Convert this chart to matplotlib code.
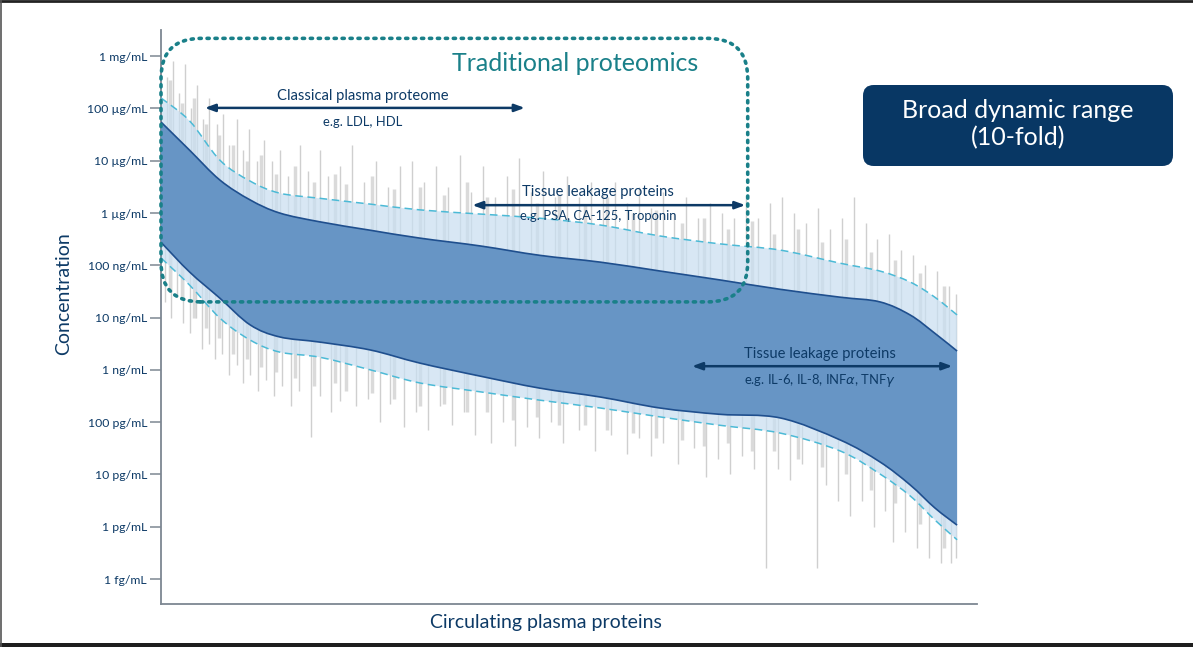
import numpy as np
import matplotlib
matplotlib.use("Agg")
import matplotlib.pyplot as plt
from matplotlib.patches import FancyBboxPatch, PathPatch
from matplotlib.path import Path

plt.rcParams['font.family'] = ['Lato', 'DejaVu Sans']

# ---------------- data ----------------
# y axis: evenly spaced concentration levels (0 = 1 fg/mL ... 10 = 1 mg/mL)
tick_levels = [0, 1, 2, 3, 4, 5, 6, 7, 8, 9, 10]
tick_labels = ["1 fg/mL", "1 pg/mL", "10 pg/mL", "100 pg/mL", "1 ng/mL",
               "10 ng/mL", "100 ng/mL", "1 µg/mL", "10 µg/mL", "100 µg/mL", "1 mg/mL"]

# protein rank (percent of circulating plasma proteins)
rank = [0, 3.6, 7.4, 11.2, 14.9, 20.0, 26.3, 32.5, 40.1, 47.6, 55.2,
        62.7, 70.2, 77.8, 85.3, 90.3, 94.1, 97.2, 100]
outer_upper = [9.20, 8.76, 8.01, 7.61, 7.38, 7.28, 7.17, 7.06, 6.98, 6.90, 6.77,
               6.56, 6.41, 6.29, 6.04, 5.89, 5.68, 5.39, 5.05]
inner_upper = [8.74, 8.20, 7.63, 7.25, 7.00, 6.83, 6.67, 6.52, 6.37, 6.19, 6.06,
               5.89, 5.72, 5.54, 5.39, 5.30, 5.05, 4.70, 4.36]
inner_lower = [6.44, 5.87, 5.37, 4.86, 4.63, 4.53, 4.38, 4.13, 3.88, 3.65, 3.48,
               3.27, 3.15, 3.08, 2.66, 2.24, 1.80, 1.36, 1.03]
outer_lower = [6.14, 5.62, 4.99, 4.57, 4.34, 4.24, 4.00, 3.75, 3.58, 3.42, 3.27,
               3.10, 2.94, 2.79, 2.45, 2.01, 1.59, 1.13, 0.75]

# individual protein measurements (gray spikes) - long, thin ones
upper_spike_x = [0.8, 1.5, 2.3, 3.0, 3.8, 4.5, 5.3, 6.0, 7.0, 7.8, 8.6, 9.5, 10.3, 11.0,
                 12.0, 13.0, 14.0, 15.0, 16.0, 17.5, 18.5, 20.0, 21.0, 22.5, 24.0, 25.5,
                 27.0, 28.5, 30.0, 31.5, 33.0, 34.5, 36.0, 37.5, 39.0, 40.5, 42.0, 43.5,
                 45.0, 46.5, 48.0, 49.5, 51.0, 52.5, 54.0, 55.5, 57.0, 58.5, 60.0, 61.5,
                 63.0, 64.5, 66.0, 67.5, 69.0, 70.5, 72.0, 73.5, 75.0, 76.5, 78.0, 79.5,
                 81.0, 82.5, 84.0, 85.5, 87.0, 88.5, 90.0, 91.5, 93.0, 94.5, 96.0, 97.5,
                 99.0, 99.8]
upper_spike_top = [9.6, 9.9, 9.3, 9.85, 9.0, 9.45, 8.8, 9.2, 8.7, 8.9, 8.3, 8.8, 8.2, 8.6,
                   8.0, 8.4, 8.0, 8.2, 7.7, 8.3, 7.8, 8.2, 7.7, 7.9, 8.3, 7.6,
                   8.0, 7.5, 7.9, 8.0, 7.6, 7.9, 7.5, 8.1, 7.4, 7.9, 7.3, 7.7,
                   8.05, 7.4, 7.8, 7.3, 7.7, 7.3, 7.6, 7.35, 7.6, 7.2, 7.5, 7.1,
                   7.4, 7.0, 7.3, 6.9, 7.2, 7.0, 6.9, 7.35, 6.9, 7.2, 7.3, 7.0,
                   6.8, 7.1, 6.7, 6.9, 7.3, 6.8, 6.5, 6.6, 6.3, 6.2, 6.0, 5.9,
                   5.6, 5.45]
lower_spike_x = [0.5, 1.2, 2.0, 2.8, 3.6, 4.4, 5.2, 6.0, 6.8, 7.6, 8.5, 9.5, 10.3, 11.2,
                 12.2, 13.2, 14.2, 15.2, 16.3, 17.3, 18.8, 20.0, 21.3, 22.5, 24.5, 26.0,
                 27.5, 28.8, 30.5, 32.0, 33.5, 35.0, 36.5, 38.0, 39.5, 41.5, 43.0, 44.5,
                 46.0, 47.5, 49.0, 50.5, 52.5, 54.5, 56.5, 58.5, 60.0, 61.5, 63.0, 65.0,
                 67.0, 68.5, 70.0, 71.5, 73.0, 74.5, 76.0, 77.5, 79.0, 80.5, 82.4, 83.5,
                 85.0, 86.5, 88.0, 89.5, 91.0, 92.0, 93.5, 95.0, 96.5, 98.0, 99.2, 99.9]
lower_spike_bottom = [5.3, 5.0, 5.4, 4.9, 4.7, 5.0, 4.4, 4.5, 4.2, 4.3, 3.9, 4.1, 3.75, 3.9,
                      3.6, 3.8, 3.5, 3.7, 3.3, 3.6, 2.72, 3.5, 3.2, 3.4, 3.3, 3.45,
                      3.0, 3.35, 2.9, 3.2, 2.85, 3.3, 2.95, 3.2, 2.75, 2.6, 3.0, 2.55,
                      2.9, 2.7, 3.0, 2.6, 2.85, 2.45, 2.75, 2.4, 2.7, 2.35, 2.6, 2.2,
                      2.5, 1.95, 2.3, 2.0, 2.35, 2.1, 0.21, 2.1, 1.9, 2.2, 0.21, 1.8,
                      1.5, 1.2, 1.5, 1.0, 1.3, 0.7, 0.9, 0.6, 0.4, 0.3, 0.3, 0.4]
# shorter, wider measurement bars close to the band
minor_x = [1.1, 2.6, 4.1, 5.7, 7.3, 9.0, 10.8, 12.5, 14.5, 16.8, 19.2, 21.8, 23.2, 26.5,
           29.3, 32.5, 35.5, 38.5, 41.0, 44.2, 47.2, 50.0, 53.2, 56.0, 59.3, 62.2, 65.5,
           68.2, 71.2, 74.2, 77.0, 80.0, 83.0, 86.0, 89.2, 92.2, 95.3, 98.3]
minor_top = [9.55, 9.1, 9.2, 8.7, 8.5, 8.3, 8.0, 8.1, 7.75, 7.9, 7.6, 7.75, 7.55, 7.7,
             7.45, 7.5, 7.35, 7.6, 7.3, 7.45, 7.2, 7.35, 7.15, 7.3, 7.0, 7.05, 6.8,
             6.9, 6.7, 6.85, 6.6, 6.7, 6.45, 6.5, 6.25, 6.1, 5.85, 5.6]
minor_bottom = [5.5, 5.35, 5.0, 4.8, 4.6, 4.3, 4.2, 4.05, 3.95, 3.85, 3.7, 3.75, 3.6, 3.55,
                3.45, 3.3, 3.35, 3.2, 3.2, 3.05, 3.1, 2.95, 2.95, 2.85, 2.8, 2.7, 2.65,
                2.55, 2.6, 2.45, 2.45, 2.3, 2.15, 2.0, 1.7, 1.45, 1.05, 0.6]

# ---------------- colours ----------------
NAVY = "#0d3a66"
TEAL = "#1a8089"
DARK_FILL = "#6795c5"
DARK_EDGE = "#1f4f8e"
LIGHT_FILL = "#c9dff1"
DASH = "#4cbad6"
SPIKE = "#cfcfcf"
AXIS = "#7d8792"


def smooth_path(xs, ys):
    """Bezier (Catmull-Rom) path through the given points."""
    P = np.column_stack([xs, ys]).astype(float)
    n = len(P)
    verts, codes = [P[0]], [Path.MOVETO]
    for i in range(n - 1):
        p0 = P[i - 1] if i > 0 else P[i]
        p1, p2 = P[i], P[i + 1]
        p3 = P[i + 2] if i + 2 < n else P[i + 1]
        verts += [p1 + (p2 - p0) / 6, p2 - (p3 - p1) / 6, p2]
        codes += [Path.CURVE4] * 3
    return verts, codes


def band_path(xs, lo, hi):
    v1, c1 = smooth_path(xs, hi)
    v2, c2 = smooth_path(xs[::-1], lo[::-1])
    c2[0] = Path.LINETO
    return Path(v1 + v2 + [v1[0]], c1 + c2 + [Path.CLOSEPOLY])


# ---------------- figure ----------------
fig = plt.figure(figsize=(11.93, 6.47), dpi=100)
ax = fig.add_axes([161 / 1193, 1 - 604 / 647, (977 - 161) / 1193, (604 - 30) / 647])
ax.set_xlim(0, 102.5)
ax.set_ylim(-0.478, 10.50)

rank_a = np.array(rank)
# spikes
ub = np.interp(upper_spike_x, rank_a, inner_upper)
ax.vlines(upper_spike_x, ub, upper_spike_top, color=SPIKE, lw=1.0, zorder=1)
lb = np.interp(lower_spike_x, rank_a, inner_lower)
ax.vlines(lower_spike_x, lower_spike_bottom, lb, color=SPIKE, lw=1.0, zorder=1)
mub = np.interp(minor_x, rank_a, inner_upper)
ax.vlines(minor_x, mub, minor_top, color="#dadada", lw=2.5, zorder=1)
mlb = np.interp(minor_x, rank_a, inner_lower)
ax.vlines(minor_x, minor_bottom, mlb, color="#dadada", lw=2.5, zorder=1)

# outer (light) band
ax.add_patch(PathPatch(band_path(rank, outer_lower, outer_upper), fc=LIGHT_FILL,
                       alpha=0.72, lw=0, zorder=2))
for series in (outer_upper, outer_lower):
    v, c = smooth_path(rank, series)
    ax.add_patch(PathPatch(Path(v, c), fill=False, ec=DASH, lw=1.1,
                           ls=(0, (5, 3)), zorder=3))

# inner (dark) band
ax.add_patch(PathPatch(band_path(rank, inner_lower, inner_upper), fc=DARK_FILL,
                       lw=0, zorder=4))
for series in (inner_upper, inner_lower):
    v, c = smooth_path(rank, series)
    ax.add_patch(PathPatch(Path(v, c), fill=False, ec=DARK_EDGE, lw=1.2, zorder=5))

# axes styling
for s in ("top", "right"):
    ax.spines[s].set_visible(False)
for s in ("left", "bottom"):
    ax.spines[s].set_color(AXIS)
    ax.spines[s].set_linewidth(1.3)
ax.set_yticks(tick_levels)
ax.set_yticklabels(tick_labels)
ax.tick_params(axis="y", length=8, width=1.1, color=AXIS, labelcolor=NAVY,
               labelsize=8.8, pad=2)
ax.set_xticks([])
ax.set_ylabel("Concentration", color=NAVY, fontsize=14)
ax.yaxis.set_label_coords(-0.109, 0.54)
ax.set_xlabel("Circulating plasma proteins", color=NAVY, fontsize=14)
ax.xaxis.set_label_coords(0.472, -0.018)

# traditional proteomics dotted box (data coords, round corners corrected for aspect)
xs = 7.96   # px per rank unit
ys = 52.3   # px per level
box = FancyBboxPatch((0.0, 5.30), 73.7, 10.34 - 5.30,
                     boxstyle="round,pad=0,rounding_size=5.0",
                     mutation_aspect=xs / ys, fill=False, ec=TEAL, lw=2.6,
                     ls=(0, (0.6, 1.6)), capstyle="round", zorder=6, clip_on=False)
ax.add_patch(box)
ax.text(52.0, 9.85, "Traditional proteomics", color=TEAL, fontsize=18,
        ha="center", va="center", zorder=7)


# arrows and labels
def span_arrow(x0, x1, y, title, sub, xc, yt, ys_):
    ax.annotate("", xy=(x0, y), xytext=(x1, y),
                arrowprops=dict(arrowstyle="<|-|>,head_length=0.6,head_width=0.22",
                                color=NAVY, lw=1.8, shrinkA=0, shrinkB=0), zorder=8)
    ax.text(xc, yt, title, color=NAVY, fontsize=10.6, ha="center", va="center", zorder=8)
    ax.text(xc, ys_, sub, color=NAVY, fontsize=9.4, ha="center", va="center", zorder=8)


span_arrow(5.5, 45.7, 9.01, "Classical plasma proteome", "e.g. LDL, HDL", 25.3, 9.23, 8.74)
span_arrow(39.1, 73.4, 7.15, "Tissue leakage proteins", "e.g. PSA, CA-125, Troponin",
           54.9, 7.40, 6.94)
span_arrow(66.7, 99.4, 4.07, "Tissue leakage proteins",
           r"e.g. IL-6, IL-8, INF$\alpha$, TNF$\gamma$", 82.8, 4.30, 3.80)

# "Broad dynamic range" box
bx0, by0, bw, bh = 863 / 1193, 1 - 166 / 647, (1173 - 863) / 1193, (166 - 85) / 647
rb = FancyBboxPatch((bx0, by0), bw, bh, boxstyle="round,pad=0,rounding_size=0.009",
                    mutation_aspect=1193 / 647, transform=fig.transFigure,
                    fc="#083764", ec="none")
fig.add_artist(rb)
fig.text(bx0 + bw / 2, by0 + bh / 2 + 0.002, "Broad dynamic range\n(10-fold)", color="white",
         fontsize=18, ha="center", va="center", linespacing=1.2)

# image frame lines
fig.add_artist(plt.Line2D([0, 1], [1 - 1 / 647, 1 - 1 / 647], transform=fig.transFigure,
                          color="#222222", lw=2))
fig.add_artist(plt.Line2D([0.5 / 1193, 0.5 / 1193], [0, 1], transform=fig.transFigure,
                          color="#555555", lw=1.2))
fig.add_artist(plt.Rectangle((0, 0), 1, 4 / 647, transform=fig.transFigure,
                             color="#1e1e1e", lw=0))

fig.savefig("out.png", dpi=100)
